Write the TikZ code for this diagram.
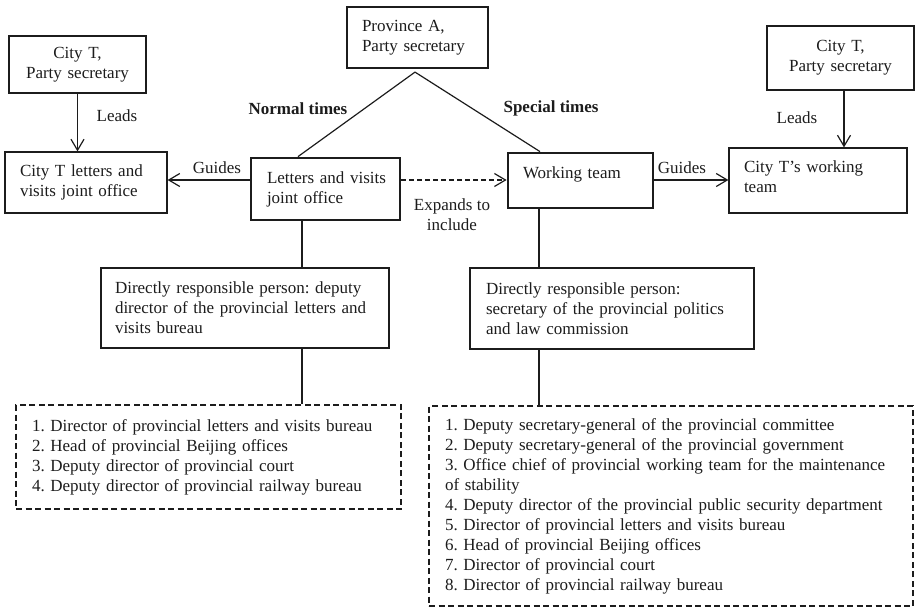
\documentclass[tikz,border=0pt]{standalone}
\usepackage{fontspec}
\setmainfont{Liberation Serif}
\usetikzlibrary{arrows.meta,calc}
\definecolor{ink}{RGB}{28,28,28}
\frenchspacing
\begin{document}
\begin{tikzpicture}[x=1pt,y=-1pt,
  font=\fontsize{17}{20}\selectfont, color=ink,
  box/.style={draw, line width=1.2pt, inner ysep=0pt, align=left},
  heavy/.style={box, line width=2.8pt},
  dbox/.style={box, dash pattern=on 6pt off 3.5pt},
  link/.style={line width=1.2pt},
  arr/.style={link, -{Straight Barb[length=11pt,width=13pt]}},
  lbl/.style={inner sep=0pt}]
\useasboundingbox (0,0) rectangle (915,608);

% boxes
\node[box, align=center, inner xsep=0pt, text width=137pt, minimum height=57pt] (cityL) at (77.5,64.5) {City T,\\Party secretary};
\node[box, inner xsep=15pt, text width=132pt, minimum height=61pt] (cityLoffice) at (86,182.5) {\mbox{City T letters and}\\\mbox{visits joint office}};
\node[box, inner xsep=15pt, text width=111pt, minimum height=61pt] (prov) at (417.5,37.5) {\mbox{Province A,}\\\mbox{Party secretary}};
\node[heavy, inner xsep=16pt, text width=117pt, minimum height=62pt] (letters) at (325.5,189) {\mbox{Letters and visits}\\\mbox{joint office}};
\node[heavy, inner xsep=15pt, text width=115pt, text height=25.5pt, text depth=29.5pt] (team) at (580.5,180.5) {\mbox{Working team}};
\node[box, inner xsep=15pt, text width=148pt, text height=24pt, text depth=41pt] (cityRteam) at (818,180.5) {\mbox{City T’s working}\\\mbox{team}};
\node[box, align=center, inner xsep=0pt, text width=147pt, minimum height=64pt] (cityR) at (840.5,58) {City T,\\Party secretary};
\node[heavy, inner xsep=14pt, text width=260pt, minimum height=80pt] (dirL) at (245,308) {\mbox{Directly responsible person: deputy}\\\mbox{director of the provincial letters and}\\\mbox{visits bureau}};
\node[heavy, inner xsep=16pt, text width=252pt, minimum height=81pt] (dirR) at (612,308.5) {\mbox{Directly responsible person:}\\\mbox{secretary of the provincial politics}\\\mbox{and law commission}};
\node[dbox, inner xsep=16pt, text width=353pt, minimum height=104pt] (listL) at (208.5,457) {\mbox{1. Director of provincial letters and visits bureau}\\\mbox{2. Head of provincial Beijing offices}\\\mbox{3. Deputy director of provincial court}\\\mbox{4. Deputy director of provincial railway bureau}};
\node[dbox, inner xsep=16pt, text width=452pt, minimum height=200pt] (listR) at (671,506) {\mbox{1. Deputy secretary-general of the provincial committee}\\\mbox{2. Deputy secretary-general of the provincial government}\\\mbox{3. Office chief of provincial working team for the maintenance}\\\mbox{of stability}\\\mbox{4. Deputy director of the provincial public security department}\\\mbox{5. Director of provincial letters and visits bureau}\\\mbox{6. Head of provincial Beijing offices}\\\mbox{7. Director of provincial court}\\\mbox{8. Director of provincial railway bureau}};

% helper coordinates
\coordinate (gy) at (0,180);
\coordinate (vl) at (302,0);
\coordinate (vr) at (539,0);
\coordinate (apex) at ($(prov.south)+(-2.5,3.5)$);

% connectors
\draw[link] (apex) -- ($(letters.north)+(-27.5,0)$);
\draw[link] (apex) -- ($(team.north)+(-40.5,0)$);
\draw[arr] (cityL.south) -- (cityL.south |- cityLoffice.north);
\draw[arr] ($(cityR.south)+(3.5,0)$) -- ($(cityR.south |- cityRteam.north)+(3.5,0)$);
\draw[arr] (letters.west |- gy) -- (cityLoffice.east |- gy);
\draw[arr, dash pattern=on 5pt off 3pt] (letters.east |- gy) -- (team.west |- gy);
\draw[arr] (team.east |- gy) -- (cityRteam.west |- gy);
\draw[link] (letters.south -| vl) -- (dirL.north -| vl);
\draw[link] (dirL.south -| vl) -- (listL.north -| vl);
\draw[link] (team.south -| vr) -- (dirR.north -| vr);
\draw[link] (dirR.south -| vr) -- (listR.north -| vr);

% labels
\node[lbl] (leadsL) at (117,116) {Leads};
\node[lbl] (leadsR) at (797,118) {Leads};
\node[lbl] (guidesL) at (217,168) {Guides};
\node[lbl] (guidesR) at (682,168) {Guides};
\node[lbl, align=center] (expands) at (452,215) {Expands to\\include};
\node[lbl, font=\fontsize{17}{20}\selectfont\bfseries] (normal) at (298,109) {Normal times};
\node[lbl, font=\fontsize{17}{20}\selectfont\bfseries] (special) at (551,108) {Special times};
\end{tikzpicture}
\end{document}
